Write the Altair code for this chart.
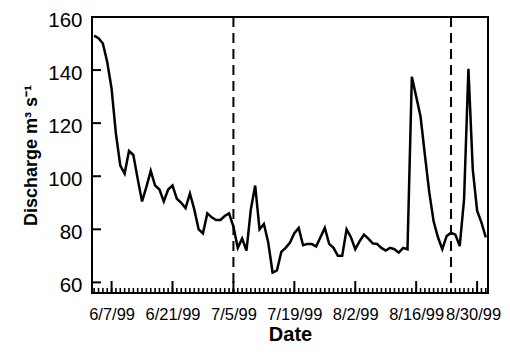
import altair as alt
import pandas as pd

# daily discharge, 6/3/99 .. 9/1/99
start_date = "1999-06-03"
discharge = [
    153, 152, 150, 143, 133, 116, 104, 101, 109.5, 108,
    99, 90.5, 96, 102, 96.5, 95, 90.5, 95, 96.5, 91.5,
    90, 88, 93.5, 87.5, 80, 78.5, 86, 84.5, 83.5, 83.5,
    85, 86, 81, 73, 76.5, 72, 87.5, 96.5, 80, 82,
    75, 63.7, 64.5, 71.5, 73, 75, 78.5, 80.5, 74, 74.5,
    74.5, 73.5, 77, 80.5, 74.5, 73, 70, 70, 80, 77,
    72.5, 75.5, 78, 76.5, 74.7, 74.5, 73, 72, 73, 72.5,
    71.2, 73, 72.5, 137.5, 130, 122.5, 108, 94, 83, 77,
    72.5, 77.5, 78.7, 78, 73.7, 91.3, 140.5, 102.6, 87, 82.5,
    77,
]
event_dates = ["1999-07-05", "1999-08-24"]
label_dates = ["1999-06-07", "1999-06-21", "1999-07-05", "1999-07-19",
               "1999-08-02", "1999-08-16", "1999-08-30"]
y_ticks = [60, 80, 100, 120, 140, 160]

dates = pd.date_range(start_date, periods=len(discharge), freq="D")
df = pd.DataFrame({"date": dates.strftime("%Y-%m-%d"), "q": discharge})
minor_df = pd.DataFrame({"d": pd.date_range("1999-06-03", "1999-09-01", freq="D").strftime("%Y-%m-%d")})
major_df = pd.DataFrame({"d": label_dates})
event_df = pd.DataFrame({"d": event_dates})
ytick_df = pd.DataFrame({"v": y_ticks})

def dt(s, h=0):
    y, m, d = [int(p) for p in s.split("-")]
    return alt.DateTime(year=y, month=m, date=d, hours=h, utc=True)

W, H = 396, 276
FONT = "Liberation Sans"

xscale = alt.Scale(type="utc", domain=[dt("1999-06-02", 12), dt("1999-09-01", 12)])
yscale = alt.Scale(domain=[56, 160], nice=False, zero=False)

x_axis = alt.Axis(values=[dt(s) for s in label_dates],
                  labelExpr="utcFormat(datum.value, '%-m/%-d/%y')",
                  ticks=False, domain=False, grid=False,
                  labelFont=FONT, labelFontSize=16.5, labelColor="black",
                  labelPadding=13, labelFlush=False, labelOverlap=False,
                  labelOffset={"condition": {"test": "datum.value > 935000000000", "value": -4}, "value": 0},
                  title="Date", titleFont=FONT, titleFontSize=20,
                  titleFontWeight="bold", titleColor="black",
                  titleBaseline="alphabetic", titleY=47)
y_axis = alt.Axis(values=y_ticks, ticks=False, domain=False, grid=False,
                  labelFont=FONT, labelFontSize=20.5, labelColor="black",
                  labelPadding=10, labelOffset=3,
                  title="Discharge m³ s⁻¹", titleFont=FONT, titleFontSize=18,
                  titleFontWeight="bold", titleColor="black",
                  titleBaseline="alphabetic", titleX=-56, titleY=H / 2)

line = alt.Chart(df).mark_line(color="black", strokeWidth=2.5).encode(
    x=alt.X("date:T", scale=xscale, axis=x_axis, title="Date"),
    y=alt.Y("q:Q", scale=yscale, axis=y_axis, title="Discharge m³ s⁻¹"),
)

XR = alt.X("d:T", scale=xscale, axis=None)

events = alt.Chart(event_df).mark_rule(color="black", strokeWidth=2, strokeDash=[10, 6]).encode(x=XR)

minor = alt.Chart(minor_df).mark_tick(
    color="black", orient="vertical", thickness=1.6, size=5, opacity=1
).encode(x=XR, y=alt.value(H - 2.5))
major = alt.Chart(major_df).mark_tick(
    color="black", orient="vertical", thickness=2, size=12, opacity=1
).encode(x=XR, y=alt.value(H - 6))
yt = alt.Chart(ytick_df).mark_tick(
    color="black", orient="horizontal", thickness=2, size=9, opacity=1
).encode(y=alt.Y("v:Q", scale=yscale, axis=None), x=alt.value(4.5))

chart = alt.layer(events, minor, major, yt, line).resolve_axis(
    x="independent", y="independent"
).properties(
    width=W, height=H,
    autosize=alt.AutoSizeParams(type="none"),
    padding={"left": 84, "top": 9, "right": 14, "bottom": 50},
).configure_view(stroke="black", strokeWidth=2, clip=False)

chart.save("out.html", embed_options={"renderer": "svg", "actions": False})
